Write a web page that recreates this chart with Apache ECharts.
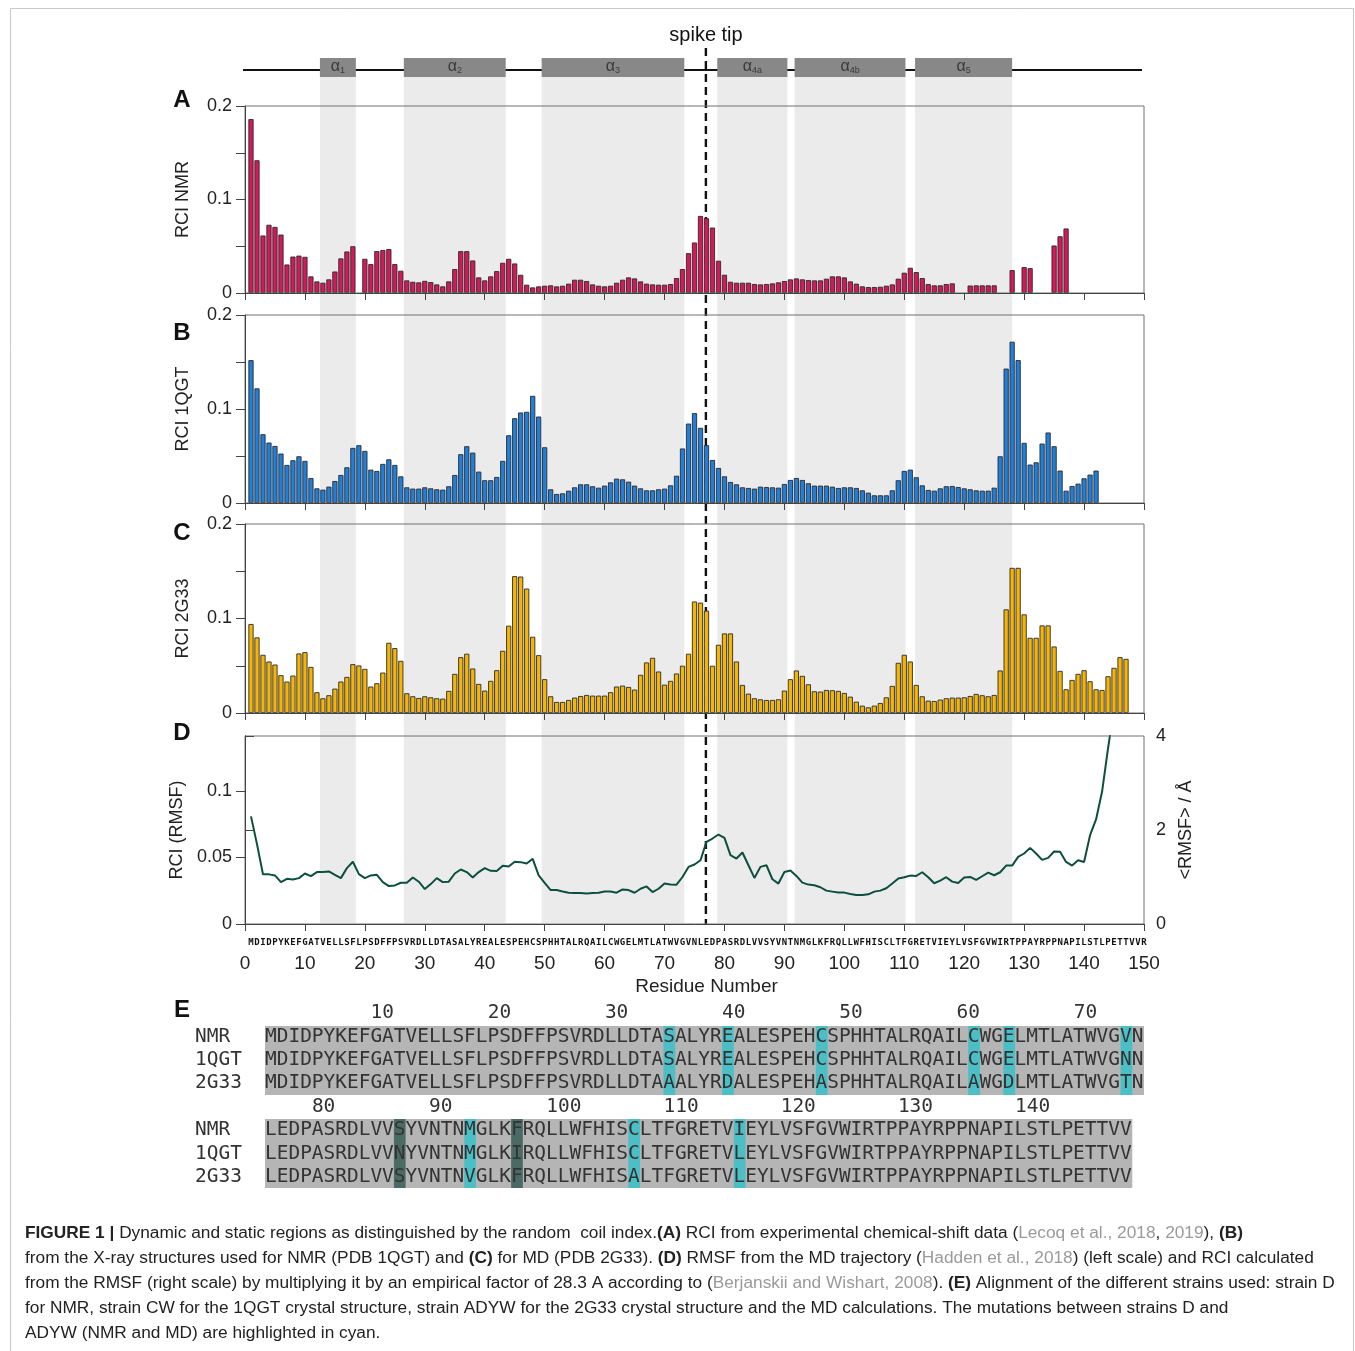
<!DOCTYPE html>
<html><head><meta charset="utf-8">
<script src="https://cdn.jsdelivr.net/npm/echarts@6/dist/echarts.min.js"></script>
<style>html,body{margin:0;padding:0;background:#fff}#c{width:1355px;height:1351px}</style>
</head><body><div id="c"></div>
<script>
// ---------------- DATA ----------------
// RCI from experimental chemical shifts (NMR), residues 1..137 (null = no data)
const rciNMR = [0.186,0.142,0.0615,0.073,0.0707,0.0625,0.0305,0.039,0.040,0.0387,
0.0178,0.0124,0.011,0.0146,0.023,0.037,0.0444,0.050,null,0.0366,
0.031,0.0448,0.046,0.047,0.031,0.0238,0.0135,0.012,0.0114,0.013,
0.0117,0.0092,0.0071,0.0124,0.0256,0.0448,0.0448,0.0348,0.0167,0.0135,
0.0178,0.0234,0.0323,0.0366,0.0316,0.0195,0.0089,0.006,0.0071,0.0078,
0.0082,0.0071,0.0078,0.010,0.0142,0.0142,0.0128,0.0092,0.0078,0.0071,
0.0078,0.011,0.0142,0.0167,0.0156,0.0124,0.010,0.0092,0.0089,0.0089,
0.0096,0.016,0.0256,0.0426,0.054,0.0824,0.080,0.070,0.0345,0.0195,
0.012,0.011,0.011,0.011,0.0096,0.0092,0.0096,0.0103,0.0114,0.0128,
0.0146,0.0156,0.0146,0.0139,0.0135,0.0135,0.0153,0.0178,0.0178,0.0167,
0.0124,0.010,0.0071,0.0064,0.0064,0.0067,0.0078,0.0092,0.0153,0.0217,
0.027,0.0224,0.016,0.0096,0.0082,0.0082,0.0096,0.0103,null,null,
0.008,0.0082,0.0082,0.0082,0.0082,null,null,0.0245,null,0.0277,
0.0266,null,null,null,0.0508,0.0607,0.069];
// RCI from X-ray structure 1QGT, residues 1..142
const rci1QGT = [0.152,0.122,0.0732,0.0643,0.0607,0.0526,0.0405,0.0455,0.0497,0.0448,
0.0266,0.0156,0.0142,0.0174,0.0234,0.0298,0.038,0.0586,0.0615,0.0554,
0.0355,0.0341,0.0416,0.0465,0.0405,0.0284,0.0167,0.0153,0.0153,0.0167,
0.0156,0.0146,0.0142,0.0178,0.0298,0.0519,0.0604,0.0536,0.0334,0.0242,
0.0242,0.0277,0.0448,0.0721,0.0902,0.0963,0.097,0.114,0.092,0.0593,
0.0146,0.0096,0.0103,0.0131,0.0167,0.0199,0.0199,0.0178,0.0163,0.0185,
0.022,0.0259,0.0252,0.0227,0.0185,0.0156,0.0135,0.0135,0.0146,0.0153,
0.0188,0.029,0.058,0.0845,0.0956,0.080,0.0615,0.0458,0.0373,0.0284,
0.0224,0.0199,0.0167,0.016,0.0153,0.0174,0.017,0.0167,0.0163,0.0202,
0.0245,0.0266,0.0245,0.021,0.0185,0.0185,0.0185,0.0174,0.016,0.0167,
0.0167,0.016,0.0135,0.011,0.0082,0.0082,0.0082,0.0135,0.0242,0.0341,
0.0355,0.0274,0.0188,0.0139,0.0131,0.0156,0.0178,0.0181,0.017,0.0156,
0.0146,0.0135,0.0131,0.0131,0.0163,0.0497,0.143,0.1716,0.152,0.064,
0.0409,0.0433,0.0632,0.075,0.0604,0.0345,0.0131,0.0181,0.0206,0.0263,
0.0302,0.0345];
// RCI from X-ray structure 2G33, residues 1..147
const rci2G33 = [0.0942,0.080,0.0616,0.0545,0.0513,0.040,0.0333,0.0396,0.063,0.0644,
0.0488,0.022,0.0156,0.0188,0.0258,0.0333,0.0382,0.0517,0.0503,0.0467,
0.028,0.0315,0.0428,0.0743,0.0687,0.0552,0.0209,0.0177,0.0159,0.0177,
0.0166,0.0156,0.0152,0.0234,0.0414,0.0591,0.0627,0.0471,0.0308,0.0237,
0.034,0.0453,0.0658,0.0924,0.1448,0.1444,0.1317,0.0807,0.0612,0.0358,
0.0177,0.0117,0.0117,0.0138,0.0163,0.018,0.0191,0.0184,0.0184,0.0184,
0.022,0.028,0.029,0.0276,0.0248,0.0404,0.0535,0.0584,0.0439,0.030,
0.034,0.0418,0.050,0.0627,0.118,0.1168,0.1083,0.050,0.0722,0.0842,
0.0842,0.0545,0.0297,0.0205,0.0156,0.0145,0.0138,0.0138,0.0145,0.0237,
0.0358,0.045,0.0393,0.0304,0.023,0.0227,0.0244,0.0241,0.0234,0.0212,
0.0173,0.012,0.0078,0.006,0.0078,0.0106,0.0166,0.0287,0.0531,0.0616,
0.0545,0.0297,0.0177,0.0131,0.0127,0.0142,0.0156,0.0163,0.0163,0.0166,
0.018,0.0202,0.0188,0.0177,0.0191,0.045,0.1097,0.1536,0.1536,0.1044,
0.0796,0.0796,0.0927,0.0927,0.0704,0.0446,0.0251,0.035,0.0414,0.0453,
0.0336,0.0251,0.0244,0.0389,0.0478,0.0591,0.0573];
// RMSF from MD (Angstrom), residues 1..145
const rmsfMD = [2.29,1.70,1.06,1.056,1.033,0.891,0.962,0.948,0.976,1.075,
1.019,1.104,1.104,1.118,1.047,0.976,1.189,1.324,1.061,0.976,
1.033,1.047,0.891,0.807,0.821,0.877,0.877,0.99,0.90,0.744,
0.849,0.976,0.891,0.90,1.075,1.16,1.104,0.99,1.104,1.189,
1.132,1.126,1.24,1.225,1.324,1.316,1.288,1.387,1.033,0.877,
0.722,0.722,0.693,0.665,0.659,0.659,0.651,0.659,0.665,0.693,
0.693,0.665,0.736,0.722,0.665,0.75,0.80,0.679,0.75,0.863,
0.84,0.837,1.0,1.215,1.265,1.357,1.748,1.819,1.904,1.833,
1.464,1.392,1.521,1.25,0.98,1.215,1.25,0.952,0.86,1.108,
1.137,1.023,0.881,0.838,0.824,0.782,0.71,0.689,0.668,0.668,
0.639,0.618,0.618,0.632,0.689,0.71,0.76,0.86,0.966,0.995,
1.03,1.023,1.101,0.995,0.867,0.924,0.995,0.902,0.874,0.987,
1.002,0.937,1.016,1.094,1.037,1.101,1.243,1.243,1.428,1.50,
1.62,1.50,1.364,1.407,1.542,1.535,1.321,1.243,1.357,1.321,
1.89,2.224,2.813,3.737,4.6];
const RCI_FACTOR = 28.3;       // RCI = RMSF / 28.3
const RMSF_MAX = 4;

// helices (residue ranges)
const helixNames = ['1','2','3','4a','4b','5'];
const helixStart = [12.5, 26.5, 49.5, 78.8, 91.7, 111.8];
const helixEnd   = [18.5, 43.5, 73.3, 90.5, 110.2, 128.0];
const spikeTip = 76.9;

// sequences
const axisSeq = "MDIDPYKEFGATVELLSFLPSDFFPSVRDLLDTASALYREALESPEHCSPHHTALRQAILCWGELMTLATWVGVNLEDPASRDLVVSYVNTNMGLKFRQLLWFHISCLTFGRETVIEYLVSFGVWIRTPPAYRPPNAPILSTLPETTVVR";
const seqNames = ['NMR','1QGT','2G33'];
const seqs = [
 "MDIDPYKEFGATVELLSFLPSDFFPSVRDLLDTASALYREALESPEHCSPHHTALRQAILCWGELMTLATWVGVNLEDPASRDLVVSYVNTNMGLKFRQLLWFHISCLTFGRETVIEYLVSFGVWIRTPPAYRPPNAPILSTLPETTVV",
 "MDIDPYKEFGATVELLSFLPSDFFPSVRDLLDTASALYREALESPEHCSPHHTALRQAILCWGELMTLATWVGNNLEDPASRDLVVNYVNTNMGLKIRQLLWFHISCLTFGRETVLEYLVSFGVWIRTPPAYRPPNAPILSTLPETTVV",
 "MDIDPYKEFGATVELLSFLPSDFFPSVRDLLDTAAALYRDALESPEHASPHHTALRQAILAWGDLMTLATWVGTNLEDPASRDLVVSYVNTNVGLKFRQLLWFHISALTFGRETVLEYLVSFGVWIRTPPAYRPPNAPILSTLPETTVV"];
const cyanCols = [35,40,48,61,64,74,93,107,116];
const darkCols = [87,97];
const seqBlocks = [[1,75],[76,149]];
const seqTickLabels = [10,20,30,40,50,60,70,80,90,100,110,120,130,140];

// ---------------- LAYOUT ----------------
const FONT = '"Liberation Sans", Arial, sans-serif';
const MONO = '"DejaVu Sans Mono", monospace';
const L = 245, W = 899;
const panels = [{top:106,h:187},{top:315,h:188},{top:524,h:189},{top:736,h:188}];
const colors = ['#d6185a','#1f7fdc','#f7b500'];
const yNames = ['RCI NMR','RCI 1QGT','RCI 2G33'];
const rciSets = [rciNMR, rci1QGT, rci2G33];

const grids = panels.map(p => ({left:L, width:W, top:p.top, height:p.h, show:true,
  borderColor:'#707070', borderWidth:1, backgroundColor:'transparent', z:5, outerBoundsMode:'none'}));
grids.push({left:L, width:W, top:40, height:885, show:false, outerBoundsMode:'none'});

const axisLineStyle = {color:'#444', width:1};
const xAxes = [];
for (let i=0;i<3;i++) xAxes.push({gridIndex:i, type:'value', position:'bottom', min:0, max:150, interval:10,
  axisLine:{show:true, onZero:false, lineStyle:axisLineStyle},
  axisTick:{show:true, length:7, lineStyle:axisLineStyle},
  axisLabel:{show:false}, splitLine:{show:false}, z:6});
xAxes.push({gridIndex:3, type:'value', position:'bottom', min:0, max:150, interval:10,
  axisLine:{show:true, onZero:false, lineStyle:axisLineStyle},
  axisTick:{show:true, length:7, lineStyle:axisLineStyle},
  axisLabel:{fontFamily:FONT, fontSize:19, color:'#222', margin:30},
  splitLine:{show:false}, name:'Residue Number', nameLocation:'middle', nameGap:53,
  nameTextStyle:{fontFamily:FONT, fontSize:19, color:'#222', padding:[0,0,0,24]}, z:6});
xAxes.push({gridIndex:3, type:'value', position:'bottom', offset:0, min:0, max:150, interval:1,
  axisLine:{show:false, onZero:false}, axisTick:{show:false}, splitLine:{show:false},
  axisLabel:{fontFamily:MONO, fontWeight:'bold', fontSize:9, color:'#111', margin:14,
    formatter: v => axisSeq[v-1] || ''}, z:6});
xAxes.push({gridIndex:4, type:'value', min:0, max:150, show:false});

const yAxes = [];
for (let i=0;i<3;i++) yAxes.push({gridIndex:i, type:'value', min:0, max:0.2, interval:0.1,
  axisLine:{show:true, lineStyle:axisLineStyle},
  axisTick:{show:true, length:9, lineStyle:axisLineStyle},
  minorTick:{show:true, splitNumber:2, length:9, lineStyle:axisLineStyle},
  axisLabel:{fontFamily:FONT, fontSize:18, color:'#222', margin:13, formatter: v => v===0?'0':v.toFixed(1)},
  splitLine:{show:false}, minorSplitLine:{show:false},
  name:yNames[i], nameLocation:'middle', nameGap:53,
  nameTextStyle:{fontFamily:FONT, fontSize:18, color:'#222'}, z:6});
yAxes.push({gridIndex:3, type:'value', min:0, max:RMSF_MAX/RCI_FACTOR, interval:0.05,
  axisLine:{show:true, lineStyle:axisLineStyle},
  axisTick:{show:true, length:9, lineStyle:axisLineStyle, customValues:[0,0.05,0.1]},
  axisLabel:{fontFamily:FONT, fontSize:18, color:'#222', margin:13, customValues:[0,0.05,0.1],
    formatter: v => v===0?'0':(Math.abs(v-0.05)<1e-6?'0.05':'0.1')},
  splitLine:{show:false}, name:'RCI (RMSF)', nameLocation:'middle', nameGap:53,
  nameTextStyle:{fontFamily:FONT, fontSize:18, color:'#222'}, z:6});
yAxes.push({gridIndex:3, type:'value', position:'right', min:0, max:RMSF_MAX, interval:2,
  axisLine:{show:true, lineStyle:axisLineStyle},
  axisTick:{show:true, length:9, lineStyle:axisLineStyle},
  axisLabel:{fontFamily:FONT, fontSize:18, color:'#222', margin:12},
  splitLine:{show:false}, name:'<RMSF> / Å', nameLocation:'middle', nameGap:30,
  nameTextStyle:{fontFamily:FONT, fontSize:18, color:'#222'}, z:6});
yAxes.push({gridIndex:4, type:'value', min:40, max:925, inverse:true, show:false});

const BAND_TOP = 77, BAND_BOT = 923, BOX_TOP = 58, BOX_BOT = 77, TOPO_Y = 70;

const series = [];
// helix bands
series.push({type:'custom', xAxisIndex:5, yAxisIndex:5, z:0, silent:true, clip:false,
  data: helixStart.map((s,i)=>[s, helixEnd[i]]),
  renderItem:(p, api) => {
    const a = api.coord([api.value(0), BAND_TOP]), b = api.coord([api.value(1), BAND_BOT]);
    return {type:'rect', shape:{x:a[0], y:a[1], width:b[0]-a[0], height:b[1]-a[1]}, style:{fill:'#ebebeb'}};
  }});
// spike tip dashed line
series.push({type:'line', xAxisIndex:5, yAxisIndex:5, z:1, silent:true, clip:false, symbol:'none',
  data:[[spikeTip,48],[spikeTip,925]], lineStyle:{color:'#111', width:2.4, type:[8,5]}});
// topology line
series.push({type:'line', xAxisIndex:5, yAxisIndex:5, z:3, silent:true, clip:false, symbol:'none',
  data:[[-1.33,TOPO_Y],[149.67,TOPO_Y]], lineStyle:{color:'#111', width:2.2}});
// helix boxes
series.push({type:'custom', xAxisIndex:5, yAxisIndex:5, z:4, silent:true, clip:false,
  data: helixStart.map((s,i)=>[s, helixEnd[i], i]),
  renderItem:(p, api) => {
    const i = api.value(2);
    const a = api.coord([api.value(0), BOX_TOP]), b = api.coord([api.value(1), BOX_BOT]);
    return {type:'group', children:[
      {type:'rect', shape:{x:a[0], y:a[1], width:b[0]-a[0], height:b[1]-a[1]}, style:{fill:'#888888'}},
      {type:'text', style:{x:(a[0]+b[0])/2, y:(a[1]+b[1])/2-1, align:'center', verticalAlign:'middle',
        text:'{a|α}{s|'+helixNames[i]+'}',
        rich:{a:{fontSize:16, fontFamily:FONT, fill:'#3a3a3a'}, s:{fontSize:9, fontFamily:FONT, fill:'#3a3a3a', padding:[8,0,0,0]}}}}
    ]};
  }});
// bars
for (let i=0;i<3;i++) {
  const d = [];
  rciSets[i].forEach((v,k)=>{ if (v!=null) d.push([k+1, v]); });
  series.push({type:'bar', xAxisIndex:i, yAxisIndex:i, data:d, barWidth:5.2, z:2, silent:true,
    itemStyle:{color:colors[i], borderColor:'#2a2a2a', borderWidth:0.9}});
}
// RMSF line
series.push({type:'line', xAxisIndex:3, yAxisIndex:4, z:2, silent:true, symbol:'none', clip:true,
  data: rmsfMD.map((v,k)=>[k+1, v]), lineStyle:{color:'#0c4f3e', width:2}});

// ---------------- GRAPHIC ----------------
const graphic = [];
graphic.push({type:'rect', shape:{x:10.5, y:8.5, width:1343, height:1345}, style:{fill:null, stroke:'#c8c8c8', lineWidth:1}, z:0});
[['A',100],['B',333],['C',533],['D',733],['E',1010]].forEach(([t,y])=>{
  graphic.push({type:'text', style:{x:182, y:y, text:t, align:'center', verticalAlign:'middle',
    font:'bold 24px '+FONT, fill:'#111'}, z:10});
});
graphic.push({type:'text', style:{x:706, y:35, text:'spike tip', align:'center', verticalAlign:'middle',
  font:'20px '+FONT, fill:'#111'}, z:10});

// panel E alignment
const E_X0 = 265, E_CW = 11.72, E_FS = 19.47;
const blockGeom = [{numY:1013, rowY:[1037,1060,1083], bgTop:1026, bgBot:1095},
                   {numY:1107, rowY:[1130,1154,1177], bgTop:1119, bgBot:1188}];
seqBlocks.forEach(([from,to], bi) => {
  const g = blockGeom[bi];
  const n = to-from+1;
  graphic.push({type:'rect', shape:{x:E_X0, y:g.bgTop, width:n*E_CW, height:g.bgBot-g.bgTop}, style:{fill:'#b5b5b5'}, z:1});
  cyanCols.concat(darkCols).forEach(c => {
    if (c<from || c>to) return;
    graphic.push({type:'rect', shape:{x:E_X0+(c-from)*E_CW, y:g.bgTop, width:E_CW, height:g.bgBot-g.bgTop},
      style:{fill: darkCols.includes(c)?'#4c6a65':'#4cbfc6'}, z:2});
  });
  seqTickLabels.forEach(t => {
    if (t<from || t>to) return;
    graphic.push({type:'text', style:{x:E_X0+(t-from)*E_CW, y:g.numY, text:String(t), align:'left', verticalAlign:'middle',
      font:E_FS+'px '+MONO, fill:'#333'}, z:3});
  });
  seqNames.forEach((nm, ri) => {
    graphic.push({type:'text', style:{x:195, y:g.rowY[ri], text:nm, align:'left', verticalAlign:'middle',
      font:E_FS+'px '+MONO, fill:'#333'}, z:3});
    graphic.push({type:'text', style:{x:E_X0, y:g.rowY[ri], text:seqs[ri].slice(from-1,to), align:'left', verticalAlign:'middle',
      font:E_FS+'px '+MONO, fill:'#333'}, z:3});
  });
});

// caption
const CAP_FS = 17.3;
const capRich = {
  b:{fontWeight:'bold', fontSize:CAP_FS, fontFamily:FONT, fill:'#222'},
  g:{fontSize:CAP_FS, fontFamily:FONT, fill:'#9a9a9a'}
};
const capLines = [
 '{b|FIGURE 1 |} Dynamic and static regions as distinguished by the random  coil index.{b|(A)} RCI from experimental chemical-shift data ({g|Lecoq et al., 2018}, {g|2019}), {b|(B)}',
 'from the X-ray structures used for NMR (PDB 1QGT) and {b|(C)} for MD (PDB 2G33). {b|(D)} RMSF from the MD trajectory ({g|Hadden et al., 2018}) (left scale) and RCI calculated',
 'from the RMSF (right scale) by multiplying it by an empirical factor of 28.3 A according to ({g|Berjanskii and Wishart, 2008}). {b|(E)} Alignment of the different strains used: strain D',
 'for NMR, strain CW for the 1QGT crystal structure, strain ADYW for the 2G33 crystal structure and the MD calculations. The mutations between strains D and',
 'ADYW (NMR and MD) are highlighted in cyan.'];
capLines.forEach((t,i)=>{
  graphic.push({type:'text', style:{x:25, y:1233+25*i, text:t, rich:capRich, align:'left', verticalAlign:'middle',
    fontSize:CAP_FS, fontFamily:FONT, fill:'#222'}, z:10});
});

const chart = echarts.init(document.getElementById('c'), null, {renderer:'canvas'});
chart.setOption({animation:false, backgroundColor:'#fff', grid:grids, xAxis:xAxes, yAxis:yAxes, series, graphic});
</script></body></html>
